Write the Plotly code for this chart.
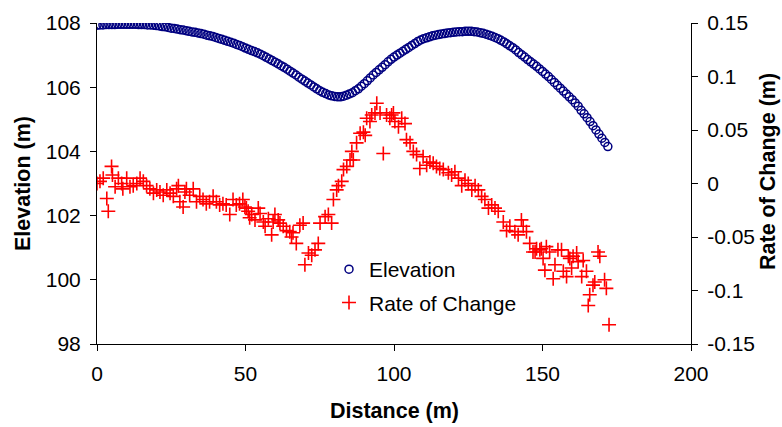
import plotly.graph_objects as go

# Elevation profile, one reading per metre of distance
elev_distance = list(range(0, 173))
elevation = [
    107.93, 107.94, 107.94, 107.95, 107.95, 107.95, 107.95, 107.96, 107.96, 107.96,
    107.96, 107.96, 107.96, 107.96, 107.95, 107.95, 107.95, 107.94, 107.94, 107.93,
    107.92, 107.91, 107.89, 107.88, 107.86, 107.84, 107.83, 107.81, 107.79, 107.78,
    107.76, 107.74, 107.72, 107.71, 107.69, 107.67, 107.65, 107.62, 107.60, 107.58,
    107.55, 107.52, 107.49, 107.46, 107.43, 107.40, 107.37, 107.33, 107.30, 107.26,
    107.22, 107.18, 107.14, 107.11, 107.07, 107.03, 106.98, 106.93, 106.88, 106.83,
    106.78, 106.73, 106.67, 106.62, 106.56, 106.50, 106.44, 106.38, 106.31, 106.25,
    106.19, 106.13, 106.07, 106.01, 105.95, 105.89, 105.84, 105.80, 105.76, 105.73,
    105.71, 105.70, 105.70, 105.72, 105.75, 105.79, 105.83, 105.89, 105.95, 106.03,
    106.11, 106.20, 106.29, 106.38, 106.46, 106.54, 106.62, 106.70, 106.79, 106.87,
    106.94, 107.00, 107.06, 107.12, 107.18, 107.24, 107.30, 107.36, 107.42, 107.47,
    107.51, 107.54, 107.57, 107.60, 107.62, 107.64, 107.66, 107.67, 107.69, 107.70,
    107.71, 107.72, 107.73, 107.73, 107.74, 107.74, 107.74, 107.73, 107.72, 107.70,
    107.68, 107.65, 107.62, 107.59, 107.55, 107.51, 107.46, 107.41, 107.35, 107.29,
    107.23, 107.16, 107.08, 107.01, 106.94, 106.86, 106.79, 106.72, 106.65, 106.57,
    106.49, 106.41, 106.33, 106.24, 106.15, 106.06, 105.97, 105.88, 105.79, 105.70,
    105.61, 105.51, 105.41, 105.28, 105.17, 105.05, 104.93, 104.80, 104.67, 104.54,
    104.41, 104.28, 104.15,
]

# Rate of change readings
rate_distance = [
    0.0, 1.0, 2.1, 3.3, 3.8, 4.9, 5.2, 6.1, 7.2, 8.3, 8.7, 10.0, 11.1, 12.2, 13.4,
    14.5, 15.6, 16.7, 17.8, 19.0, 20.1, 21.2, 22.3, 23.5, 24.6, 25.7, 26.8, 27.4,
    27.9, 29.0, 29.6, 30.1, 31.2, 32.4, 33.5, 34.6, 35.7, 36.8, 37.9, 39.1, 40.2,
    41.3, 42.4, 43.5, 44.7, 45.8, 46.9, 48.0, 49.1, 49.8, 50.3, 50.9, 51.4, 52.1,
    53.2, 54.3, 54.9, 56.0, 56.6, 57.7, 58.8, 59.3, 59.9, 61.0, 61.6, 62.7, 63.8,
    64.9, 65.5, 66.0, 67.1, 68.3, 69.4, 70.0, 71.2, 72.3, 73.4, 74.5, 75.1, 76.8,
    77.9, 79.0, 79.6, 80.7, 81.3, 82.4, 83.0, 84.1, 85.2, 85.8, 86.3, 87.4, 88.6,
    89.7, 90.3, 90.8, 91.9, 92.5, 93.6, 94.2, 95.3, 96.4, 97.5, 98.6, 99.2, 99.8,
    100.3, 101.5, 102.6, 103.7, 104.2, 105.4, 106.5, 107.6, 108.7, 109.8, 111.0,
    112.1, 113.2, 114.3, 115.4, 116.6, 118.3, 119.4, 120.5, 121.7, 122.8, 123.9,
    125.0, 126.2, 127.3, 128.4, 129.5, 130.6, 131.8, 132.9, 134.0, 135.1, 136.8,
    137.9, 139.0, 140.7, 141.8, 142.9, 143.5, 144.6, 145.7, 146.8, 147.5, 148.0,
    149.1, 149.6, 150.2, 150.8, 151.3, 152.4, 153.6, 154.2, 155.2, 156.4, 157.0,
    158.1, 158.7, 159.2, 159.8, 160.3, 161.5, 162.0, 163.2, 163.7, 164.8, 165.4,
    165.9, 167.0, 167.6, 168.7, 169.3, 170.9, 171.5, 172.4,
]
rate_of_change = [
    0.000, 0.002, 0.005, -0.014, -0.026, 0.016, 0.008, -0.003, 0.005, 0.000, -0.005,
    0.005, -0.003, -0.002, 0.000, 0.005, 0.002, -0.002, -0.005, -0.009, -0.006,
    -0.008, -0.011, -0.006, -0.009, -0.012, -0.005, -0.002, -0.017, -0.022, -0.008,
    -0.005, -0.011, -0.005, -0.017, -0.012, -0.015, -0.019, -0.017, -0.012, -0.017,
    -0.020, -0.019, -0.020, -0.029, -0.015, -0.020, -0.019, -0.015, -0.022, -0.023,
    -0.026, -0.032, -0.029, -0.034, -0.023, -0.028, -0.036, -0.040, -0.033, -0.048,
    -0.036, -0.029, -0.034, -0.037, -0.040, -0.044, -0.045, -0.050, -0.046, -0.056,
    -0.039, -0.037, -0.076, -0.065, -0.067, -0.062, -0.056, -0.037, -0.031, -0.029,
    -0.037, -0.015, -0.006, -0.002, 0.002, 0.013, 0.016, 0.022, 0.030, 0.022, 0.038,
    0.047, 0.048, 0.045, 0.061, 0.058, 0.064, 0.066, 0.075, 0.066, 0.028, 0.064,
    0.061, 0.064, 0.066, 0.058, 0.053, 0.061, 0.056, 0.041, 0.038, 0.030, 0.027,
    0.014, 0.025, 0.017, 0.020, 0.019, 0.016, 0.014, 0.013, 0.010, 0.008, 0.011,
    0.005, -0.002, 0.003, 0.000, -0.006, -0.002, -0.006, -0.012, -0.015, -0.023,
    -0.020, -0.023, -0.026, -0.036, -0.044, -0.040, -0.045, -0.048, -0.034, -0.040,
    -0.045, -0.056, -0.064, -0.064, -0.061, -0.062, -0.061, -0.070, -0.081, -0.059,
    -0.064, -0.089, -0.076, -0.062, -0.062, -0.082, -0.087, -0.068, -0.070, -0.079,
    -0.068, -0.065, -0.073, -0.087, -0.072, -0.082, -0.114, -0.104, -0.095, -0.092,
    -0.064, -0.068, -0.090, -0.098, -0.132,
]

x_ticks = [0, 50, 100, 150, 200]
elev_ticks = [98, 100, 102, 104, 106, 108]
rate_ticks = [-0.15, -0.1, -0.05, 0, 0.05, 0.1, 0.15]
rate_tick_text = ["-0.15", "-0.1", "-0.05", "0", "0.05", "0.1", "0.15"]

FONT = "Liberation Sans, Arial, sans-serif"
W, H = 782, 427
L, R, T, B = 97, 91, 23, 83
pw, ph = W - L - R, H - T - B


def px(x):
    return (x - L) / pw


def py(y):
    return (H - B - y) / ph


fig = go.Figure()
fig.add_trace(go.Scatter(
    x=elev_distance, y=elevation, mode="markers", name="Elevation",
    marker=dict(symbol="circle-open", size=8, color="#000080",
                line=dict(color="#000080", width=1.5)),
    legendgroup="a",
))
fig.add_trace(go.Scatter(
    x=rate_distance, y=rate_of_change, mode="markers", name="Rate of Change",
    yaxis="y2",
    marker=dict(symbol="cross-thin", size=10, color="#FF0000",
                line=dict(color="#FF0000", width=1.6)),
    legendgroup="b",
))

axis_common = dict(
    showline=True, linecolor="#000000", linewidth=1, showgrid=False,
    zeroline=False, ticks="outside", ticklen=6, tickcolor="#000000",
    ticklabelstandoff=5,
    tickfont=dict(family=FONT, size=21, color="#000000"),
)

fig.update_layout(
    width=W, height=H,
    margin=dict(l=L, r=R, t=T, b=B, pad=0),
    paper_bgcolor="white", plot_bgcolor="white",
    font=dict(family=FONT, size=21, color="#000000"),
    xaxis=dict(range=[0, 200], tickvals=x_ticks, **axis_common),
    yaxis=dict(range=[98, 108], tickvals=elev_ticks, **axis_common),
    yaxis2=dict(range=[-0.15, 0.15], tickvals=rate_ticks, ticktext=rate_tick_text,
                overlaying="y", side="right", **axis_common),
    showlegend=True,
    legend=dict(x=px(329), y=py(249), xanchor="left", yanchor="top",
                bgcolor="rgba(0,0,0,0)", borderwidth=0, tracegroupgap=3,
                traceorder="grouped",
                font=dict(family=FONT, size=21, color="#000000")),
    annotations=[
        dict(text="<b>Distance (m)</b>", xref="paper", yref="paper",
             x=px(394.5), y=py(411), xanchor="center", yanchor="middle",
             showarrow=False, font=dict(family=FONT, size=21.5)),
        dict(text="<b>Elevation (m)</b>", xref="paper", yref="paper",
             x=px(23), y=py(184), xanchor="center", yanchor="middle",
             textangle=-90, showarrow=False, font=dict(family=FONT, size=21.5)),
        dict(text="<b>Rate of Change (m)</b>", xref="paper", yref="paper",
             x=px(768), y=py(172), xanchor="center", yanchor="middle",
             textangle=-90, showarrow=False, font=dict(family=FONT, size=21.5)),
    ],
)

fig.write_html("out.html")
